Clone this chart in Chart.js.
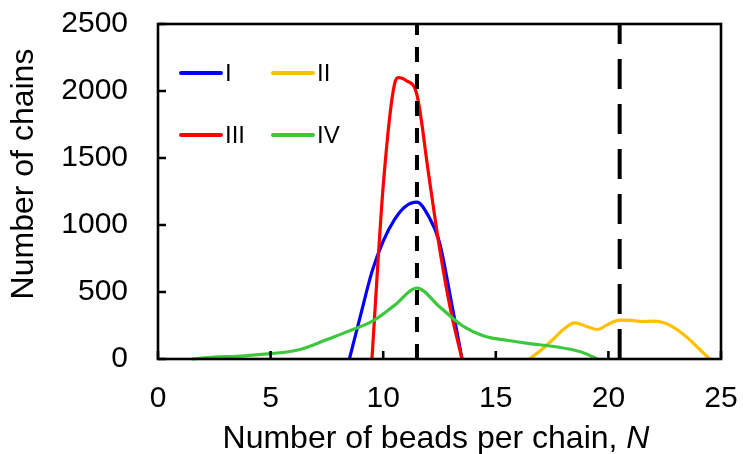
<!DOCTYPE html>
<html>
<head>
<meta charset="utf-8">
<script src="https://cdn.jsdelivr.net/npm/chart.js@4/dist/chart.umd.min.js"></script>
<style>
  html, body { margin: 0; padding: 0; background: #fff; }
  #wrap { width: 743px; height: 454px; }
</style>
</head>
<body>
<div id="wrap"><canvas id="grafico"></canvas></div>
<script>
// datos
const nI = [8.5, 9, 9.5, 10, 10.5, 11, 11.5, 12, 12.5, 13, 13.5];
const valI = [0, 330, 650, 880, 1040, 1140, 1170, 1070, 870, 450, 0];

const nII = [16.5, 17, 17.5, 18, 18.5, 19, 19.5, 20, 20.5, 21, 21.5, 22, 22.5, 23, 23.5, 24, 24.5];
const valII = [0, 65, 140, 220, 270, 245, 220, 260, 290, 288, 280, 282, 268, 225, 160, 80, 0];

const nIII = [9.5, 10, 10.5, 10.7, 11, 11.5, 12, 12.5, 13, 13.5];
const valIII = [0, 1290, 2050, 2100, 2080, 1970, 1400, 830, 360, 0];

const nIV = [1.5, 2.5, 3.5, 5, 6, 6.5, 7.5, 8.5, 9.5, 10.5, 11.5, 12.5, 13.5, 14.5, 15.5, 16.5, 17.5, 18.5, 19, 19.5];
const valIV = [0, 15, 20, 40, 60, 80, 145, 210, 280, 400, 530, 390, 250, 170, 140, 115, 95, 65, 40, 0];

const lineasN = [11.5, 20.5];
const yMin = 0, yMax = 2500;
const xTicks = [0, 5, 10, 15, 20, 25];
const yTicks = [0, 500, 1000, 1500, 2000, 2500];
const tituloY = 'Number of chains';
const tituloX = ['Number of beads per chain, ', 'N'];

const puntos = (xs, ys) => xs.map((x, i) => ({ x: x, y: ys[i] }));

const curva = (label, xs, ys, color, order) => ({
  label: label,
  data: puntos(xs, ys),
  borderColor: color,
  backgroundColor: color,
  borderWidth: 3.2,
  pointRadius: 0,
  tension: 0.4,
  cubicInterpolationMode: 'monotone',
  clip: false,
  order: order
});

const FUENTE = '"Liberation Sans", Arial, sans-serif';

// leyenda dentro del area (2 columnas)
const leyenda = {
  id: 'leyenda',
  afterDatasetsDraw(chart) {
    const { ctx, chartArea } = chart;
    const items = chart.data.datasets.filter(d => d.enLeyenda);
    ctx.save();
    ctx.font = '24px ' + FUENTE;
    ctx.textBaseline = 'middle';
    ctx.fillStyle = '#000';
    items.forEach((d, i) => {
      const col = i % 2, fila = Math.floor(i / 2);
      const x0 = chartArea.left + 23 + col * 92;
      const y0 = chartArea.top + 49 + fila * 62;
      ctx.strokeStyle = d.borderColor;
      ctx.lineWidth = 4;
      ctx.lineCap = 'round';
      ctx.beginPath();
      ctx.moveTo(x0, y0);
      ctx.lineTo(x0 + 40, y0);
      ctx.stroke();
      ctx.fillText(d.label, x0 + 44, y0 + 1);
    });
    ctx.restore();
  }
};

// marco, ticks hacia dentro y titulos
const marco = {
  id: 'marco',
  afterDraw(chart) {
    const { ctx, chartArea, scales } = chart;
    ctx.save();
    ctx.strokeStyle = '#000';
    ctx.lineWidth = 2.6;
    ctx.strokeRect(chartArea.left, chartArea.top, chartArea.right - chartArea.left, chartArea.bottom - chartArea.top);
    ctx.beginPath();
    xTicks.forEach(v => {
      const px = scales.x.getPixelForValue(v);
      ctx.moveTo(px, chartArea.bottom);
      ctx.lineTo(px, chartArea.bottom - 8);
    });
    yTicks.forEach(v => {
      const py = scales.y.getPixelForValue(v);
      ctx.moveTo(chartArea.left, py);
      ctx.lineTo(chartArea.left + 8, py);
    });
    ctx.stroke();

    // titulo eje x, con la N en cursiva
    ctx.fillStyle = '#000';
    ctx.textBaseline = 'alphabetic';
    ctx.font = '32px ' + FUENTE;
    const w1 = ctx.measureText(tituloX[0]).width;
    ctx.font = 'italic 32px ' + FUENTE;
    const w2 = ctx.measureText(tituloX[1]).width;
    const x1 = 436 - (w1 + w2) / 2;
    ctx.font = '32px ' + FUENTE;
    ctx.fillText(tituloX[0], x1, 448);
    ctx.font = 'italic 32px ' + FUENTE;
    ctx.fillText(tituloX[1], x1 + w1, 448);

    // titulo eje y
    ctx.translate(24, 174);
    ctx.rotate(-Math.PI / 2);
    ctx.font = '32px ' + FUENTE;
    ctx.textAlign = 'center';
    ctx.textBaseline = 'middle';
    ctx.fillText(tituloY, 0, 0);
    ctx.restore();
  }
};

const datasets = [
  curva('I', nI, valI, '#0000FF', 4),
  curva('II', nII, valII, '#FFC000', 5),
  curva('III', nIII, valIII, '#FF0000', 3),
  curva('IV', nIV, valIV, '#3CC83C', 2)
];
datasets.forEach(d => d.enLeyenda = true);

datasets.push({
  label: 'N1',
  data: [{ x: lineasN[0], y: yMin }, { x: lineasN[0], y: yMax }],
  borderColor: '#000',
  borderWidth: 4,
  borderDash: [15, 12],
  pointRadius: 0,
  order: 1
});
datasets.push({
  label: 'N2',
  data: [{ x: lineasN[1], y: yMin }, { x: lineasN[1], y: yMax }],
  borderColor: '#000',
  borderWidth: 4,
  borderDash: [30, 15],
  pointRadius: 0,
  order: 0
});

const sinRelleno = s => {
  s.paddingTop = 0; s.paddingBottom = 0; s.paddingLeft = 0; s.paddingRight = 0;
};

new Chart(document.getElementById('grafico'), {
  type: 'line',
  data: { datasets: datasets },
  options: {
    responsive: true,
    maintainAspectRatio: false,
    animation: false,
    layout: { padding: { left: 0, top: 24, right: 22, bottom: 0 } },
    plugins: {
      legend: { display: false },
      tooltip: { enabled: false }
    },
    scales: {
      x: {
        type: 'linear',
        min: 0,
        max: 25,
        afterFit: s => { s.height = 95; sinRelleno(s); },
        afterBuildTicks: s => { s.ticks = xTicks.map(v => ({ value: v })); },
        grid: { display: false, drawTicks: false },
        border: { display: false },
        ticks: {
          color: '#000', padding: 22, maxRotation: 0,
          font: { size: 30, family: FUENTE },
          callback: v => String(v)
        }
      },
      y: {
        type: 'linear',
        min: yMin,
        max: yMax,
        afterFit: s => { s.width = 158; sinRelleno(s); },
        afterBuildTicks: s => { s.ticks = yTicks.map(v => ({ value: v })); },
        grid: { display: false, drawTicks: false },
        border: { display: false },
        ticks: {
          color: '#000', padding: 30,
          font: { size: 30, family: FUENTE },
          callback: v => String(v)
        }
      }
    }
  },
  plugins: [leyenda, marco]
});
</script>
</body>
</html>
